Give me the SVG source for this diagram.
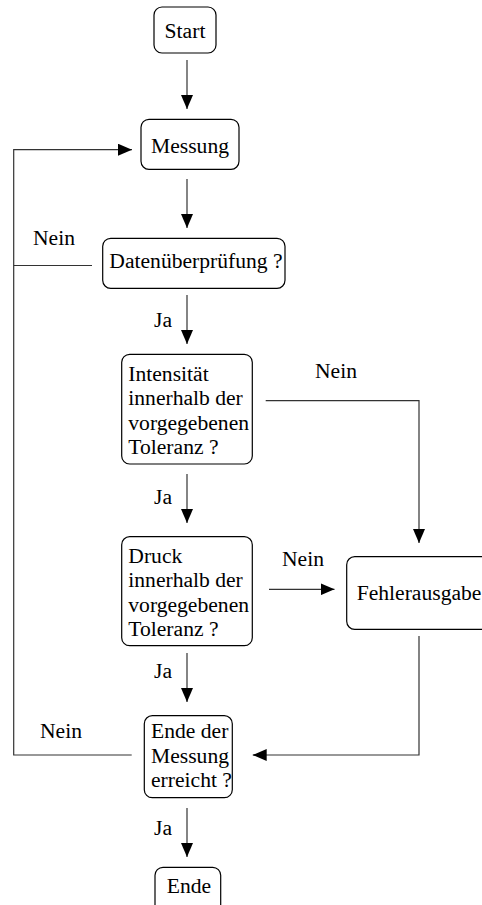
<svg xmlns="http://www.w3.org/2000/svg" width="482" height="905" viewBox="0 0 482 905">
<style>
.box{fill:#fff;stroke:#000;stroke-width:1.2}
.c{text-anchor:middle}
.ln{fill:none;stroke:#333;stroke-width:1.2}
</style>
<defs>
<marker id="ah" markerUnits="userSpaceOnUse" markerWidth="14" markerHeight="12" refX="14" refY="6" orient="auto">
<path d="M0,0 L14,6 L0,12 Z" fill="#000"/>
</marker>
</defs>
<g font-family="Liberation Serif, Times New Roman, serif" font-size="21.6" fill="#000">
<g id="connectors">
<line class="ln" x1="187" y1="60" x2="187" y2="109" marker-end="url(#ah)"/>
<line class="ln" x1="187" y1="179" x2="187" y2="228" marker-end="url(#ah)"/>
<line class="ln" x1="187" y1="295" x2="187" y2="344" marker-end="url(#ah)"/>
<line class="ln" x1="187" y1="474" x2="187" y2="523" marker-end="url(#ah)"/>
<line class="ln" x1="187" y1="653" x2="187" y2="702" marker-end="url(#ah)"/>
<line class="ln" x1="187" y1="808" x2="187" y2="857" marker-end="url(#ah)"/>
<polyline class="ln" points="92,265.5 13.7,265.5"/>
<polyline class="ln" points="131.7,755 13.7,755 13.7,149.7 132,149.7" marker-end="url(#ah)"/>
<polyline class="ln" points="265.7,400.7 419,400.7 419,543" marker-end="url(#ah)"/>
<line class="ln" x1="269" y1="589.3" x2="334.5" y2="589.3" marker-end="url(#ah)"/>
<polyline class="ln" points="419,636 419,755 252.7,755" marker-end="url(#ah)"/>
<text x="33" y="245">Nein</text>
<text x="154" y="327">Ja</text>
<text x="315" y="378">Nein</text>
<text x="154" y="504">Ja</text>
<text x="282" y="566">Nein</text>
<text x="154" y="678">Ja</text>
<text x="40" y="738">Nein</text>
<text x="154" y="835">Ja</text>
</g>
<g id="start">
<rect class="box" x="154" y="7" width="62" height="46" rx="8"/>
<text class="c" x="185" y="38">Start</text>
</g>
<g id="messung">
<rect class="box" x="141" y="119.3" width="98" height="50" rx="8"/>
<text class="c" x="190" y="153">Messung</text>
</g>
<g id="datenpruefung">
<rect class="box" x="102.7" y="238.3" width="182.3" height="50" rx="8"/>
<text class="c" x="196" y="268">Datenüberprüfung ?</text>
</g>
<g id="intensitaet">
<rect class="box" x="121.7" y="354.3" width="130.6" height="109.7" rx="8"/>
<text x="128.3" y="381">Intensität</text>
<text x="128.3" y="405.3">innerhalb der</text>
<text x="128.3" y="430">vorgegebenen</text>
<text x="128.3" y="454">Toleranz ?</text>
</g>
<g id="druck">
<rect class="box" x="121.7" y="536.7" width="130.6" height="109" rx="8"/>
<text x="128.3" y="563.3">Druck</text>
<text x="128.3" y="587">innerhalb der</text>
<text x="128.3" y="611.5">vorgegebenen</text>
<text x="128.3" y="635.5">Toleranz ?</text>
</g>
<g id="fehlerausgabe">
<rect class="box" x="346.7" y="556.7" width="150" height="72.6" rx="8"/>
<text x="356.7" y="600">Fehlerausgabe</text>
</g>
<g id="ende-messung">
<rect class="box" x="144.3" y="715.7" width="88" height="82" rx="8"/>
<text x="151" y="738.3">Ende der</text>
<text x="151" y="762.7">Messung</text>
<text x="151" y="786.7">erreicht ?</text>
</g>
<g id="ende">
<rect class="box" x="155" y="867.3" width="65.7" height="60" rx="8"/>
<text class="c" x="189" y="893.3">Ende</text>
</g>
</g>
</svg>
